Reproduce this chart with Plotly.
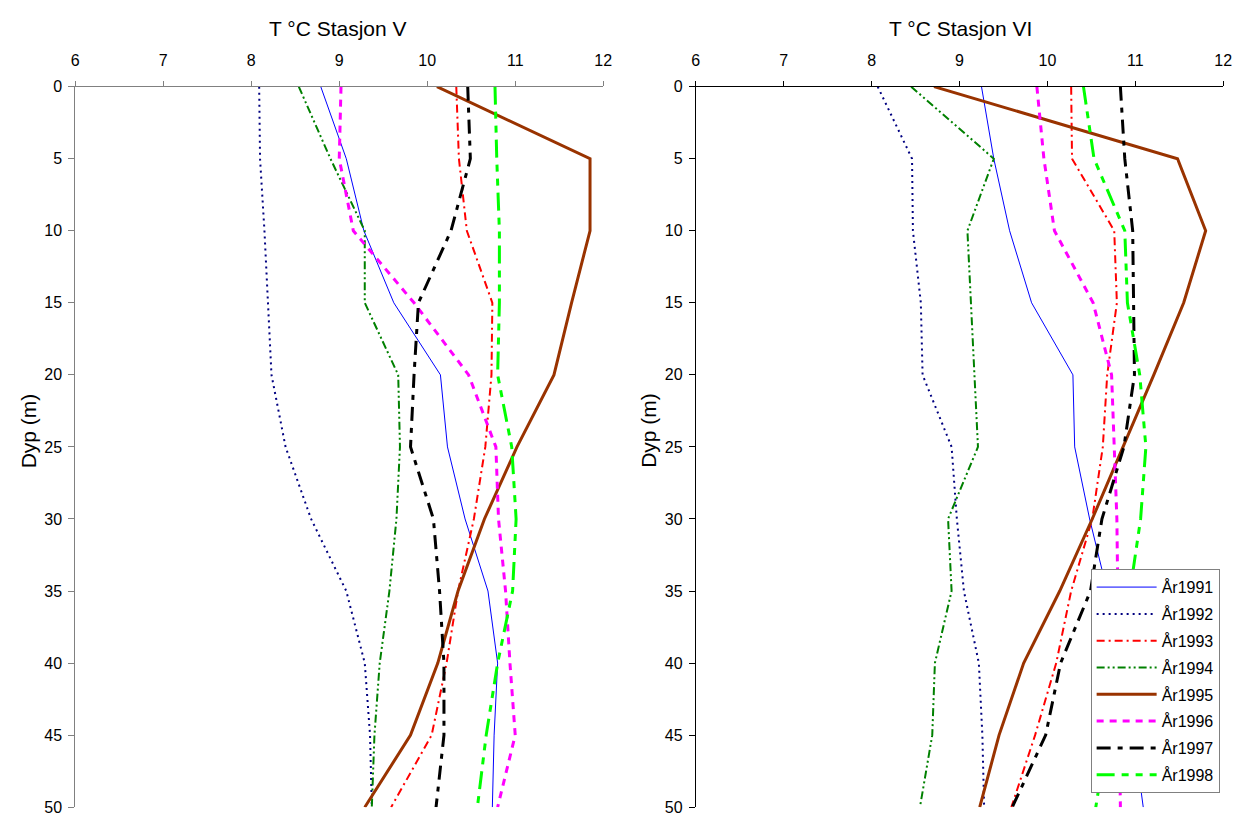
import plotly.graph_objects as go

depths = [0, 5, 10, 15, 20, 25, 30, 35, 40, 45, 50]
years = ["År1991", "År1992", "År1993", "År1994", "År1995", "År1996", "År1997", "År1998"]

# Stasjon V temperatures (°C) by depth
v1991 = [8.79, 9.08, 9.28, 9.62, 10.15, 10.23, 10.43, 10.69, 10.80, 10.76, 10.74]
v1992 = [8.09, 8.10, 8.15, 8.19, 8.23, 8.39, 8.68, 9.08, 9.29, 9.35, 9.37]
v1993 = [10.33, 10.36, 10.45, 10.74, 10.73, 10.66, 10.53, 10.35, 10.22, 10.05, 9.59]
v1994 = [8.54, 8.90, 9.29, 9.29, 9.67, 9.69, 9.65, 9.57, 9.46, 9.40, 9.37]
v1995 = [10.11, 11.85, 11.85, 11.64, 11.44, 11.02, 10.65, 10.35, 10.12, 9.81, 9.29]
v1996 = [9.02, 9.00, 9.16, 9.85, 10.47, 10.78, 10.81, 10.89, 10.94, 11.00, 10.80]
v1997 = [10.46, 10.49, 10.27, 9.90, 9.85, 9.81, 10.07, 10.14, 10.19, 10.19, 10.10]
v1998 = [10.77, 10.79, 10.82, 10.82, 10.80, 10.96, 11.01, 10.97, 10.80, 10.67, 10.57]

# Stasjon VI temperatures (°C) by depth
w1991 = [9.25, 9.39, 9.57, 9.82, 10.29, 10.31, 10.48, 10.68, 10.85, 10.98, 11.09]
w1992 = [8.07, 8.46, 8.47, 8.56, 8.58, 8.91, 8.97, 9.05, 9.22, 9.26, 9.28]
w1993 = [10.27, 10.28, 10.76, 10.79, 10.68, 10.63, 10.51, 10.27, 10.10, 9.86, 9.59]
w1994 = [8.45, 9.39, 9.09, 9.13, 9.17, 9.21, 8.87, 8.91, 8.72, 8.69, 8.55]
w1995 = [8.71, 11.48, 11.80, 11.55, 11.21, 10.86, 10.51, 10.14, 9.73, 9.45, 9.23]
w1996 = [9.88, 9.96, 10.08, 10.52, 10.73, 10.76, 10.79, 10.80, 10.81, 10.82, 10.83]
w1997 = [10.83, 10.88, 10.97, 10.98, 10.99, 10.87, 10.62, 10.49, 10.15, 9.98, 9.60]
w1998 = [10.41, 10.53, 10.88, 10.91, 11.05, 11.12, 11.06, 10.94, 10.80, 10.68, 10.55]

x_ticks = [6, 7, 8, 9, 10, 11, 12]
y_ticks = [0, 5, 10, 15, 20, 25, 30, 35, 40, 45, 50]

styles = [
    dict(color="#0000FF", width=1, dash="solid"),
    dict(color="#000080", width=2, dash="2px,4px"),
    dict(color="#FF0000", width=2, dash="8px,4px,2px,4px"),
    dict(color="#008000", width=2, dash="8px,3px,2px,3px,2px,3px"),
    dict(color="#993300", width=3, dash="solid"),
    dict(color="#FF00FF", width=3, dash="7px,6px"),
    dict(color="#000000", width=3, dash="14px,7px,5px,7px"),
    dict(color="#00FF00", width=3, dash="18px,7px,7px,7px,7px,7px"),
]

station_v = [v1991, v1992, v1993, v1994, v1995, v1996, v1997, v1998]
station_vi = [w1991, w1992, w1993, w1994, w1995, w1996, w1997, w1998]

fig = go.Figure()
for name, vals, st in zip(years, station_v, styles):
    fig.add_trace(go.Scatter(x=vals, y=depths, mode="lines", name=name, line=st,
                             xaxis="x", yaxis="y", showlegend=False, legendgroup=name))
for name, vals, st in zip(years, station_vi, styles):
    fig.add_trace(go.Scatter(x=vals, y=depths, mode="lines", name=name, line=st,
                             xaxis="x2", yaxis="y2", showlegend=True, legendgroup=name))

W, H = 1256, 825


def px(x):
    return x / W


def py(y):
    return 1 - y / H


y_dom = [py(816), py(80.3)]
font = "Liberation Sans, Arial, sans-serif"


def xax(dom, lc, anchor):
    return dict(domain=dom, range=[6, 12], side="top", tickvals=x_ticks, showgrid=False,
                zeroline=False, showline=True, linecolor=lc, linewidth=1, ticks="outside",
                ticklen=5, tickcolor=lc, tickfont=dict(size=16, color="black", family=font),
                ticklabelstandoff=8, anchor=anchor, fixedrange=True)


def yax(lc, anchor):
    return dict(domain=y_dom, range=[50, 0], tickvals=y_ticks, showgrid=False,
                zeroline=False, showline=True, linecolor=lc, linewidth=1, ticks="outside",
                ticklen=6, tickcolor=lc, tickfont=dict(size=16, color="black", family=font),
                ticklabelstandoff=3, anchor=anchor, fixedrange=True)


fig.update_layout(
    width=W, height=H,
    margin=dict(l=0, r=0, t=0, b=0),
    paper_bgcolor="white", plot_bgcolor="white",
    font=dict(family=font, color="black"),
    xaxis=xax([px(72), px(605.5)], "#808080", "y"),
    yaxis=yax("#808080", "x"),
    xaxis2=xax([px(699), px(1232)], "#000000", "y2"),
    yaxis2=yax("#000000", "x2"),
    legend=dict(x=px(1098), y=py(573), xanchor="left", yanchor="top",
                bgcolor="white", bordercolor="#808080", borderwidth=1,
                font=dict(size=16, family=font), tracegroupgap=3,
                itemwidth=60, traceorder="grouped"),
    annotations=[
        dict(text="T °C Stasjon V", x=px(337), y=py(20.5), xref="paper", yref="paper",
             showarrow=False, font=dict(size=21, family=font), xanchor="center", yanchor="middle"),
        dict(text="T °C Stasjon VI", x=px(966.5), y=py(20.5), xref="paper", yref="paper",
             showarrow=False, font=dict(size=21, family=font), xanchor="center", yanchor="middle"),
        dict(text="Dyp (m)", x=px(25), y=py(431.5), xref="paper", yref="paper", textangle=-90,
             showarrow=False, font=dict(size=21, family=font), xanchor="center", yanchor="middle"),
        dict(text="Dyp (m)", x=px(651), y=py(431.5), xref="paper", yref="paper", textangle=-90,
             showarrow=False, font=dict(size=21, family=font), xanchor="center", yanchor="middle"),
    ],
)

fig.write_html("out.html")
